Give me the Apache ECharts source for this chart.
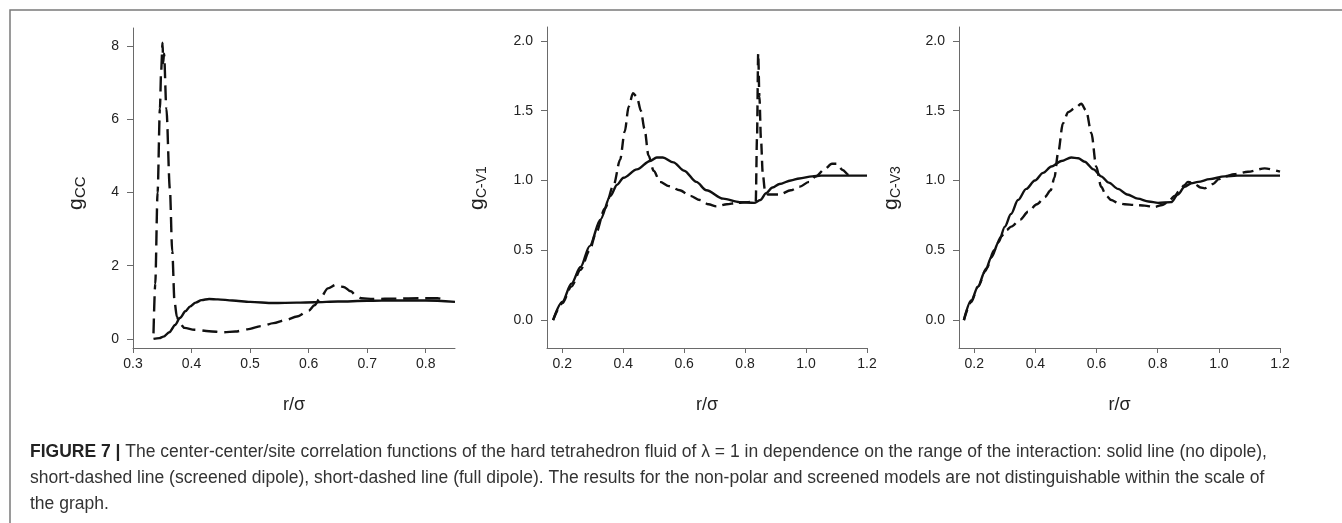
<!DOCTYPE html>
<html>
<head>
<meta charset="utf-8">
<script src="https://cdn.jsdelivr.net/npm/echarts@6/dist/echarts.min.js"></script>
<style>
  html, body { margin: 0; padding: 0; background: #fff; }
  #chart { width: 1342px; height: 523px; }
</style>
</head>
<body>
<div id="chart"></div>
<script>
// ---- data (x = r/sigma, y = g) ----
const ccSolid = [
  [0.335, 0.0], [0.345, 0.02], [0.352, 0.06], [0.362, 0.18], [0.372, 0.38], [0.38, 0.57],
  [0.39, 0.76], [0.397, 0.88], [0.407, 0.99], [0.417, 1.06], [0.43, 1.09], [0.445, 1.08],
  [0.47, 1.05], [0.5, 1.01], [0.54, 0.98], [0.58, 0.99], [0.61, 1.0], [0.65, 1.02],
  [0.7, 1.04], [0.75, 1.05], [0.8, 1.05], [0.85, 1.01]
];
const ccDashed = [
  [0.335, 0.15], [0.338, 1.5], [0.342, 4.0], [0.346, 6.3], [0.348, 7.3], [0.3505, 8.1],
  [0.3515, 7.55], [0.353, 7.8], [0.357, 6.3], [0.363, 4.1], [0.367, 2.4], [0.371, 1.0],
  [0.375, 0.6], [0.38, 0.42], [0.388, 0.3], [0.405, 0.25], [0.43, 0.21], [0.455, 0.18],
  [0.475, 0.2], [0.495, 0.26], [0.52, 0.35], [0.54, 0.43], [0.56, 0.51], [0.58, 0.61],
  [0.6, 0.77], [0.61, 0.92], [0.62, 1.12], [0.633, 1.38], [0.647, 1.48], [0.66, 1.42],
  [0.672, 1.3], [0.68, 1.2], [0.69, 1.11], [0.71, 1.09], [0.75, 1.1], [0.79, 1.11],
  [0.82, 1.11], [0.836, 1.05]
];
const cv1Solid = [
  [0.17, 0.0], [0.2, 0.13], [0.23, 0.26], [0.26, 0.38], [0.29, 0.53], [0.325, 0.72],
  [0.358, 0.89], [0.38, 0.97], [0.401, 1.02], [0.445, 1.08], [0.488, 1.14], [0.51, 1.165],
  [0.53, 1.165], [0.565, 1.13], [0.6, 1.07], [0.64, 0.99], [0.673, 0.93], [0.728, 0.87],
  [0.782, 0.845], [0.83, 0.84], [0.85, 0.86], [0.869, 0.91], [0.89, 0.95], [0.913, 0.975],
  [0.95, 1.0], [0.978, 1.015], [1.02, 1.03], [1.05, 1.035], [1.2, 1.035]
];
const cv1Dashed = [
  [0.17, 0.0], [0.2, 0.12], [0.23, 0.24], [0.26, 0.36], [0.29, 0.5], [0.31, 0.62],
  [0.34, 0.8], [0.369, 0.97], [0.39, 1.15], [0.405, 1.35], [0.418, 1.53], [0.432, 1.625],
  [0.445, 1.6], [0.458, 1.5], [0.47, 1.37], [0.483, 1.18], [0.5, 1.07], [0.521, 0.99],
  [0.55, 0.96], [0.586, 0.93], [0.62, 0.89], [0.652, 0.86], [0.68, 0.83], [0.706, 0.815],
  [0.74, 0.83], [0.771, 0.84], [0.81, 0.845], [0.835, 0.85], [0.839, 1.3], [0.843, 1.91],
  [0.847, 1.6], [0.852, 1.3], [0.858, 1.05], [0.865, 0.93], [0.875, 0.9], [0.913, 0.9],
  [0.95, 0.93], [0.978, 0.955], [1.01, 0.99], [1.033, 1.03], [1.06, 1.08], [1.085, 1.12],
  [1.1, 1.12], [1.12, 1.075], [1.14, 1.04], [1.16, 1.035]
];
const cv3Solid = [
  [0.166, 0.0], [0.19, 0.14], [0.212, 0.24], [0.235, 0.35], [0.256, 0.45], [0.28, 0.56],
  [0.3, 0.67], [0.32, 0.76], [0.343, 0.86], [0.37, 0.94], [0.398, 1.0], [0.425, 1.055],
  [0.452, 1.1], [0.485, 1.14], [0.517, 1.165], [0.54, 1.16], [0.561, 1.135], [0.59, 1.08],
  [0.615, 1.03], [0.64, 0.985], [0.67, 0.94], [0.7, 0.9], [0.735, 0.87], [0.77, 0.85],
  [0.801, 0.84], [0.844, 0.845], [0.866, 0.9], [0.888, 0.955], [0.91, 0.98], [0.932, 0.99],
  [0.97, 1.01], [1.019, 1.03], [1.06, 1.035], [1.2, 1.035]
];
const cv3Dashed = [
  [0.166, 0.0], [0.19, 0.13], [0.212, 0.24], [0.24, 0.37], [0.265, 0.5], [0.288, 0.6],
  [0.305, 0.645], [0.321, 0.67], [0.35, 0.72], [0.376, 0.776], [0.405, 0.83], [0.43, 0.88],
  [0.45, 0.93], [0.462, 1.02], [0.474, 1.195], [0.49, 1.41], [0.507, 1.49], [0.53, 1.52],
  [0.55, 1.55], [0.566, 1.5], [0.583, 1.34], [0.599, 1.1], [0.615, 0.955], [0.632, 0.89],
  [0.648, 0.86], [0.67, 0.84], [0.692, 0.83], [0.725, 0.825], [0.757, 0.82], [0.79, 0.81],
  [0.815, 0.825], [0.834, 0.845], [0.855, 0.89], [0.872, 0.93], [0.886, 0.965], [0.899, 0.99],
  [0.91, 0.985], [0.921, 0.975], [0.94, 0.95], [0.954, 0.944], [0.968, 0.955], [0.981, 0.975],
  [1.0, 1.01], [1.019, 1.03], [1.05, 1.045], [1.095, 1.063], [1.15, 1.087], [1.2, 1.063]
];

// tick labels
const ccXTicks = [0.3, 0.4, 0.5, 0.6, 0.7, 0.8];
const ccYTicks = [0, 2, 4, 6, 8];
const cvXTicks = [0.2, 0.4, 0.6, 0.8, 1.0, 1.2];
const cvYTicks = [0, 0.5, 1.0, 1.5, 2.0];

const yNames = [["g", "CC"], ["g", "C-V1"], ["g", "C-V3"]];
const xName = "r/\u03c3";
const captionLines = [
  "The center-center/site correlation functions of the hard tetrahedron fluid of \u03bb = 1 in dependence on the range of the interaction: solid line (no dipole),",
  "short-dashed line (screened dipole), short-dashed line (full dipole). The results for the non-polar and screened models are not distinguishable within the scale of",
  "the graph."
];

const FONT = "'Liberation Sans', Arial, Helvetica, sans-serif";
const AXIS_GREY = "#6a6a6a";

const chart = echarts.init(document.getElementById("chart"), null, { renderer: "canvas" });

// panel layout in px
const panels = [
  { left: 133, top: 28, width: 322, height: 320, xMin: 0.3, xMax: 0.85, yMin: -0.25, yMax: 8.5,
    xTicks: ccXTicks, yTicks: ccYTicks, yDec: 0, dash: [15, 7], solid: ccSolid, dashed: ccDashed, nameX: 76 },
  { left: 547, top: 27, width: 320, height: 321, xMin: 0.15, xMax: 1.2, yMin: -0.2, yMax: 2.1,
    xTicks: cvXTicks, yTicks: cvYTicks, yDec: 1, dash: [11, 6], solid: cv1Solid, dashed: cv1Dashed, nameX: 477 },
  { left: 959, top: 27, width: 321, height: 321, xMin: 0.15, xMax: 1.2, yMin: -0.2, yMax: 2.1,
    xTicks: cvXTicks, yTicks: cvYTicks, yDec: 1, dash: [11, 6], solid: cv3Solid, dashed: cv3Dashed, nameX: 891 }
];

const grid = [], xAxis = [], yAxis = [], series = [], graphic = [];

panels.forEach((p, i) => {
  grid.push({ left: p.left, top: p.top, width: p.width, height: p.height });
  xAxis.push({
    type: "value", gridIndex: i, min: p.xMin, max: p.xMax,
    name: xName, nameLocation: "middle", nameGap: 48,
    nameTextStyle: { fontFamily: FONT, fontSize: 18, color: "#222" },
    axisLine: { show: true, onZero: false, lineStyle: { color: AXIS_GREY, width: 1 } },
    axisTick: { show: true, length: 5, customValues: p.xTicks, lineStyle: { color: AXIS_GREY } },
    axisLabel: { customValues: p.xTicks, margin: 9, fontFamily: FONT, fontSize: 14, color: "#222",
      formatter: (v) => v.toFixed(1) },
    splitLine: { show: false }
  });
  yAxis.push({
    type: "value", gridIndex: i, min: p.yMin, max: p.yMax,
    axisLine: { show: true, onZero: false, lineStyle: { color: AXIS_GREY, width: 1 } },
    axisTick: { show: true, length: 6, customValues: p.yTicks, lineStyle: { color: AXIS_GREY } },
    axisLabel: { customValues: p.yTicks, margin: 14, fontFamily: FONT, fontSize: 14, color: "#222",
      formatter: (v) => v.toFixed(p.yDec) },
    splitLine: { show: false }
  });
  series.push({
    name: "no dipole", type: "line", xAxisIndex: i, yAxisIndex: i, data: p.solid,
    showSymbol: false, smooth: 0.3, smoothMonotone: "x",
    lineStyle: { color: "#111", width: 2.4 }, z: 3
  });
  series.push({
    name: "full dipole", type: "line", xAxisIndex: i, yAxisIndex: i, data: p.dashed,
    showSymbol: false, smooth: 0.3, smoothMonotone: "x",
    lineStyle: { color: "#111", width: 2.4, type: p.dash }, z: 2
  });

  // rotated y-axis name: g with subscript
  graphic.push({
    type: "group", x: p.nameX, y: 210, rotation: Math.PI / 2, silent: true,
    children: [
      { type: "text", x: 0, y: 0, style: { text: yNames[i][0], font: "21px " + FONT, fill: "#222",
        align: "left", verticalAlign: "middle" } },
      { type: "text", x: 12, y: 5, style: { text: yNames[i][1], font: (i === 0 ? 15 : 14) + "px " + FONT,
        fill: "#222", align: "left", verticalAlign: "middle" } }
    ]
  });
});

// outer frame (top and left edge)
graphic.push({
  type: "polyline", silent: true,
  shape: { points: [[10, 523], [10, 10], [1342, 10]] },
  style: { stroke: "#7a7a7a", lineWidth: 1.5, fill: null }
});

// caption
const capY = [452, 478, 504];
captionLines.forEach((line, k) => {
  graphic.push({
    type: "text", x: 30, y: capY[k], silent: true,
    style: {
      text: (k === 0 ? "{b|FIGURE 7 |} " : "") + line,
      font: "17.5px " + FONT, fill: "#333", verticalAlign: "middle",
      rich: { b: { fontWeight: "bold", fontSize: 17.5, fontFamily: FONT, fill: "#222" } }
    }
  });
});

chart.setOption({
  animation: false,
  backgroundColor: "#fff",
  grid, xAxis, yAxis, series, graphic
});
</script>
</body>
</html>
